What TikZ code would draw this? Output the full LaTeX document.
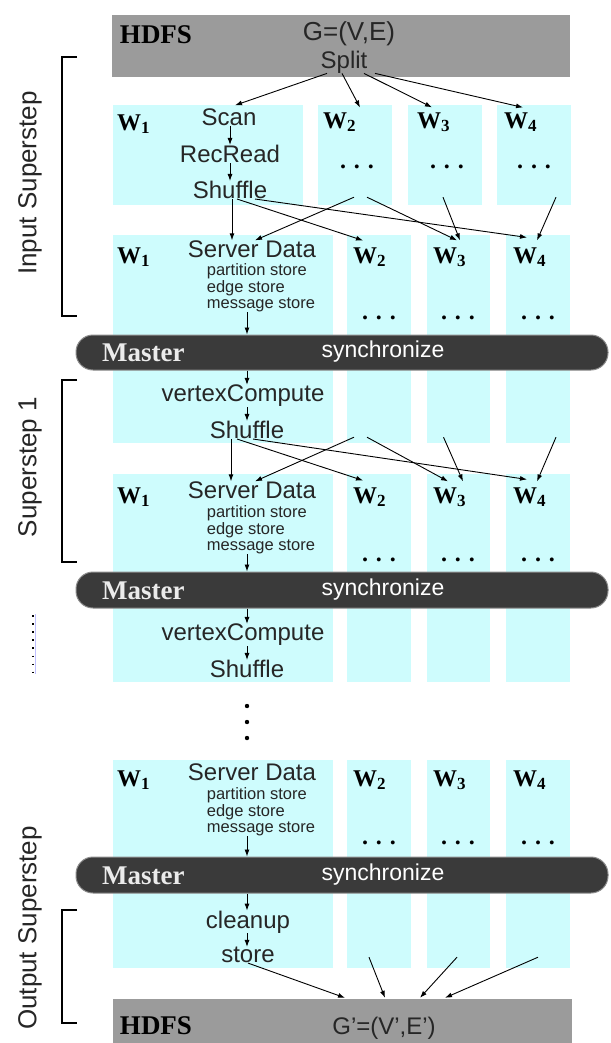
\documentclass[tikz,border=0pt]{standalone}
\usepackage{fontspec}
\setmainfont{Liberation Serif}
\setsansfont{Liberation Sans}
\usetikzlibrary{arrows.meta,fit}

\definecolor{wcyan}{RGB}{206,252,253}
\definecolor{hdfsgray}{RGB}{155,155,155}
\definecolor{mastergray}{RGB}{58,58,58}

\newcommand{\wk}[1]{W\raisebox{-3pt}{\fontsize{17}{17}\selectfont #1}}
\newcommand{\ellip}{.\hspace{8pt}.\hspace{8pt}.}

\tikzset{
  wbox/.style={fill=wcyan, inner sep=0pt},
  hdfsbox/.style={fill=hdfsgray, inner sep=0pt},
  masterbar/.style={fill=mastergray, draw=black!45, line width=1pt, rounded corners=17pt, inner sep=0pt},
  txt/.style={font=\fontsize{24}{26}\selectfont\sffamily, text=black!85, inner sep=0pt},
  storetxt/.style={font=\fontsize{16.5}{16.5}\selectfont\sffamily, text=black!85, align=left, inner sep=0pt},
  wtxt/.style={font=\fontsize{24}{26}\selectfont\bfseries, anchor=west, inner sep=0pt},
  boldtxt/.style={font=\fontsize{27}{30}\selectfont\bfseries, inner sep=0pt},
  mtxt/.style={font=\fontsize{27}{30}\selectfont\bfseries, text=white!92!black, anchor=west, inner sep=0pt},
  dottxt/.style={font=\fontsize{24}{26}\selectfont\bfseries, inner sep=0pt},
  synctxt/.style={font=\fontsize{23}{26}\selectfont\sffamily, text=white, inner sep=0pt},
  sidetxt/.style={font=\fontsize{26}{28}\selectfont\sffamily, text=black!85, rotate=90, inner sep=0pt},
  brk/.style={line width=2pt},
  arr/.style={-{Latex[length=7pt,width=5pt]}, line width=0.9pt},
}

\begin{document}
\begin{tikzpicture}[x=1pt,y=-1pt]
  \useasboundingbox (0,0) rectangle (610,1043);
  \coordinate (col) at (247,0);

  % HDFS input
  \node[hdfsbox, fit={(112,15) (570,77)}] (hdfsa) {};
  \node[boldtxt] (hdfs1) at (156,35) {HDFS};
  \node[txt, font=\fontsize{26}{28}\selectfont\sffamily] (g) at (349,34) {G=(V,E)};
  \node[txt] (split) at (344,62) {Split};

  % worker columns
  \foreach \c/\a/\b in {1/113/303, 2/318/392, 3/408/482, 4/497/571}
    \node[wbox, fit={(\a,105) (\b,205)}] (c\c-a) {};
  \foreach \r/\t/\u in {b/235/443, c/474/682, d/760/968}{
    \foreach \c/\a/\b in {1/113/333, 2/347/411, 3/427/490, 4/506/570}
      \node[wbox, fit={(\a,\t) (\b,\u)}] (c\c-\r) {};
  }

  % input superstep
  \node[wtxt] (w1a) at (117,124) {\wk{1}};
  \node[wtxt] (w2a) at (323,122) {\wk{2}};
  \node[wtxt] (w3a) at (417,122) {\wk{3}};
  \node[wtxt] (w4a) at (504,122) {\wk{4}};
  \node[txt] (scan) at (229,117) {Scan};
  \node[txt] (recread) at (230,154) {RecRead};
  \node[txt] (shufa) at (230,190) {Shuffle};
  \node[dottxt] (d2a) at (357,167) {\ellip};
  \node[dottxt] (d3a) at (447,167) {\ellip};
  \node[dottxt] (d4a) at (534,167) {\ellip};

  \draw[arr] ([xshift=-17pt]split.south) -- ([xshift=6pt,yshift=3pt]scan.north);
  \draw[arr] ([xshift=-2pt]split.south) -- ([xshift=37pt,yshift=5pt]w2a.north west);
  \draw[arr] ([xshift=20pt]split.south) -- ([xshift=15pt,yshift=5pt]w3a.north west);
  \draw[arr] ([xshift=31pt]split.south) -- ([xshift=19pt,yshift=5pt]w4a.north west);
  \draw[arr] (scan.south -| recread) -- (recread.north);
  \draw[arr] (recread.south) -- (shufa.north);

  \node[wtxt] (w1b) at (117,257) {\wk{1}};
  \node[wtxt] (w2b) at (353,257) {\wk{2}};
  \node[wtxt] (w3b) at (433,257) {\wk{3}};
  \node[wtxt] (w4b) at (513,257) {\wk{4}};
  \node[txt] (sda) at (252,249) {Server Data};
  \node[storetxt] (sta) at (261,288) {partition store\\edge store\\message store};
  \node[dottxt] (d2b) at (379,318) {\ellip};
  \node[dottxt] (d3b) at (458,318) {\ellip};
  \node[dottxt] (d4b) at (538,318) {\ellip};

  \draw[arr] ([xshift=2pt]shufa.south) -- ([xshift=-20pt]sda.north);
  \draw[arr] ([xshift=7pt]shufa.south) -- ([xshift=10pt,yshift=7pt]w2b.north west);
  \draw[arr] ([xshift=25pt]shufa.south) -- ([xshift=14pt,yshift=10pt]w4b.north west);
  \draw[arr] ([xshift=-1pt,yshift=8pt]c2-a.south) -- ([xshift=3pt]sda.north);
  \draw[arr] ([xshift=12pt,yshift=8pt]c2-a.south) -- ([xshift=24pt,yshift=7pt]w3b.north west);
  \draw[arr] ([xshift=-2pt,yshift=8pt]c3-a.south) -- ([xshift=27pt,yshift=7pt]w3b.north west);
  \draw[arr] ([xshift=22pt,yshift=8pt]c4-a.south) -- ([xshift=24pt,yshift=7pt]w4b.north west);

  \node[masterbar, fit={(76,335) (608,370)}] (m1) {};
  \node[mtxt] (mast1) at (102,353) {Master};
  \node[synctxt] (sync1) at (383,352) {synchronize};
  \draw[arr] (sta.south -| col) -- (m1.north -| col);

  % superstep 1
  \node[txt] (vca) at (243,396) {vertexCompute};
  \node[txt] (shufb) at (247,430) {Shuffle};
  \draw[arr] (m1.south -| col) -- (vca.north -| col);
  \draw[arr] (vca.south -| col) -- (shufb.north -| col);

  \node[wtxt] (w1c) at (117,497) {\wk{1}};
  \node[wtxt] (w2c) at (353,497) {\wk{2}};
  \node[wtxt] (w3c) at (433,497) {\wk{3}};
  \node[wtxt] (w4c) at (513,497) {\wk{4}};
  \node[txt] (sdb) at (252,490) {Server Data};
  \node[storetxt] (stb) at (261,530) {partition store\\edge store\\message store};
  \node[dottxt] (d2c) at (379,560) {\ellip};
  \node[dottxt] (d3c) at (458,560) {\ellip};
  \node[dottxt] (d4c) at (538,560) {\ellip};

  \draw[arr] ([xshift=-16pt]shufb.south) -- ([xshift=-21pt]sdb.north);
  \draw[arr] ([xshift=-10pt]shufb.south) -- ([xshift=10pt,yshift=7pt]w2c.north west);
  \draw[arr] ([xshift=6pt]shufb.south) -- ([xshift=14pt,yshift=8pt]w4c.north west);
  \draw[arr] ([xshift=-25pt,yshift=6pt]c2-b.south) -- ([xshift=3pt]sdb.north);
  \draw[arr] ([xshift=-12pt,yshift=6pt]c2-b.south) -- ([xshift=15pt,yshift=6pt]w3c.north west);
  \draw[arr] ([xshift=-15pt,yshift=6pt]c3-b.south) -- ([xshift=30pt,yshift=6pt]w3c.north west);
  \draw[arr] ([xshift=18pt,yshift=6pt]c4-b.south) -- ([xshift=24pt,yshift=6pt]w4c.north west);

  \node[masterbar, fit={(76,572) (608,608)}] (m2) {};
  \node[mtxt] (mast2) at (102,591) {Master};
  \node[synctxt] (sync2) at (383,590) {synchronize};
  \draw[arr] (stb.south -| col) -- (m2.north -| col);

  % further supersteps
  \node[txt] (vcc) at (243,635) {vertexCompute};
  \node[txt] (shufc) at (247,669) {Shuffle};
  \draw[arr] (m2.south -| col) -- (vcc.north -| col);
  \draw[arr] (vcc.south -| col) -- (shufc.north -| col);
  \foreach \y in {706,722,738}
    \fill (247,\y) circle (2.2pt);

  \node[wtxt] (w1d) at (117,780) {\wk{1}};
  \node[wtxt] (w2d) at (353,780) {\wk{2}};
  \node[wtxt] (w3d) at (433,780) {\wk{3}};
  \node[wtxt] (w4d) at (513,780) {\wk{4}};
  \node[txt] (sdc) at (252,772) {Server Data};
  \node[storetxt] (stc) at (261,812) {partition store\\edge store\\message store};
  \node[dottxt] (d2d) at (379,843) {\ellip};
  \node[dottxt] (d3d) at (458,843) {\ellip};
  \node[dottxt] (d4d) at (538,843) {\ellip};

  \node[masterbar, fit={(76,857) (608,893)}] (m3) {};
  \node[mtxt] (mast3) at (102,876) {Master};
  \node[synctxt] (sync3) at (383,875) {synchronize};
  \draw[arr] (stc.south -| col) -- (m3.north -| col);

  % output superstep
  \node[txt] (clean) at (248,922) {cleanup};
  \node[txt] (store) at (248,955) {store};
  \draw[arr] (m3.south -| col) -- (clean.north -| col);
  \draw[arr] (clean.south -| col) -- (store.north -| col);

  \node[hdfsbox, fit={(113,999) (572,1043)}] (hdfsb) {};
  \node[boldtxt] (hdfs2) at (156,1026) {HDFS};
  \node[txt] (gp) at (384,1028) {G'=(V',E')};
  \draw[arr] (store.south) -- ([xshift=2.5pt,yshift=1pt]hdfsb.north);
  \draw[arr] ([xshift=-10pt,yshift=11pt]c2-d.south) -- ([xshift=42.5pt,yshift=1pt]hdfsb.north);
  \draw[arr] ([xshift=-1.5pt,yshift=11pt]c3-d.south) -- ([xshift=77.5pt,yshift=1pt]hdfsb.north);
  \draw[arr] ([yshift=11pt]c4-d.south) -- ([xshift=102.5pt,yshift=1pt]hdfsb.north);

  % brackets and side labels
  \draw[brk] (77,57) -- (62,57) -- (62,316) -- (77,316);
  \draw[brk] (77,380) -- (62,380) -- (62,562) -- (77,562);
  \draw[brk] (77,910) -- (62,910) -- (62,1023) -- (77,1023);
  \node[sidetxt] (lin) at (30,183) {Input Superstep};
  \node[sidetxt] (lsone) at (30,467) {Superstep 1};
  \node[sidetxt] (lout) at (30,928) {Output Superstep};
  \draw[blue!25, line width=0.6pt] (35,614) -- (35,674);
  \draw[line width=1.6pt, dash pattern=on 1.6pt off 6.5pt] (33,615) -- (33,674);

\end{tikzpicture}
\end{document}
